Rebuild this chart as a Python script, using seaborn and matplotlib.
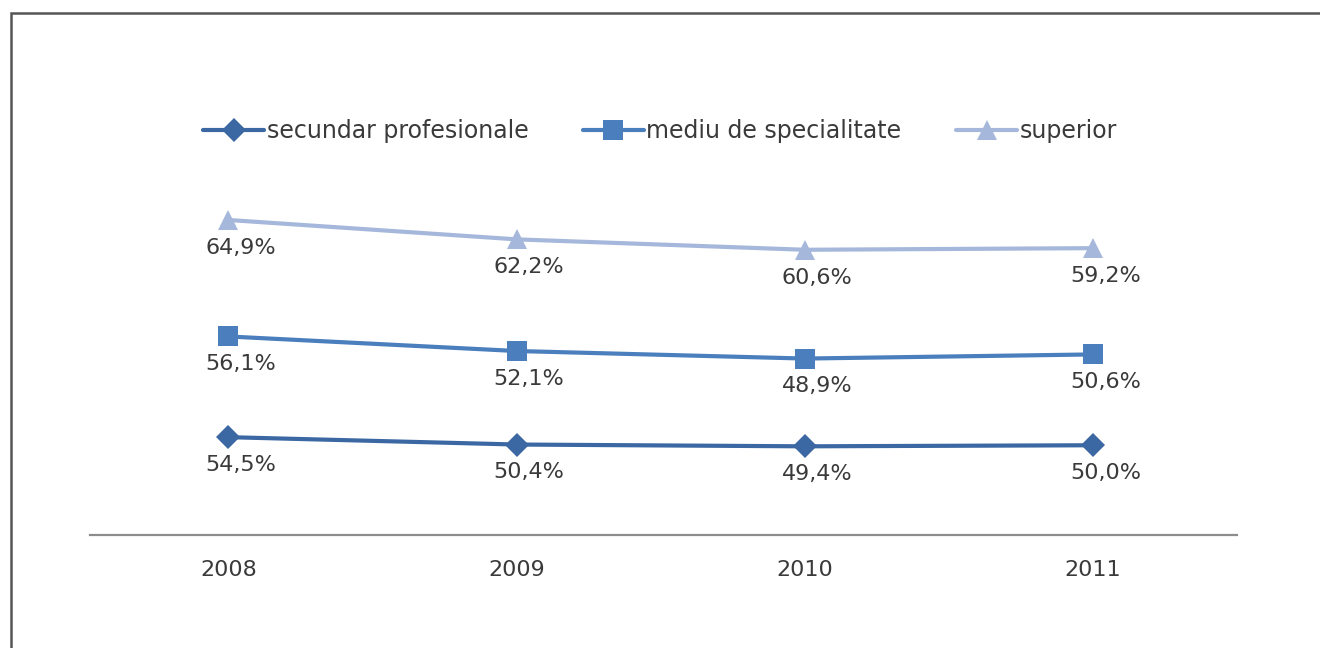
import numpy as np
import pandas as pd
import matplotlib
matplotlib.use("Agg")
import matplotlib.pyplot as plt
from matplotlib.patches import Rectangle
import seaborn as sns

# data (stacked line chart, labels show own values)
years = ["2008", "2009", "2010", "2011"]
series_names = ["secundar profesionale", "mediu de specialitate", "superior"]
secundar = [54.5, 50.4, 49.4, 50.0]
mediu = [56.1, 52.1, 48.9, 50.6]
superior = [64.9, 62.2, 60.6, 59.2]

colors = ["#3b67a3", "#4a7ebd", "#a5b8db"]
markers = ["D", "s", "^"]
msizes = [12, 14, 14]

sns.set_theme(style="white")
plt.rcParams["font.family"] = ["DejaVu Sans"]

values = [secundar, mediu, superior]
stacked = np.cumsum(np.array(values), axis=0)

rows = []
for name, vals, tops in zip(series_names, values, stacked):
    for i, (v, t) in enumerate(zip(vals, tops)):
        rows.append({"series": name, "pos": i, "value": v, "height": t})
df = pd.DataFrame(rows)

W, H = 1320, 648
fig = plt.figure(figsize=(W / 100, H / 100), dpi=100)
ax = fig.add_axes([90 / W, (H - 535) / H, 1147 / W, 359 / H])

for name, c, m, ms in zip(series_names, colors, markers, msizes):
    sub = df[df["series"] == name]
    sns.lineplot(data=sub, x="pos", y="height", ax=ax, color=c, lw=3,
                 marker=m, markersize=ms, markeredgewidth=0, label=name)
    for _, r in sub.iterrows():
        ax.annotate(f"{r['value']:.1f}%".replace(".", ","), (r["pos"], r["height"]),
                    xytext=(9, -20), textcoords="offset points",
                    ha="center", va="center", fontsize=16, color="#3a3a3a")

ax.set_xlim(-0.48, 3.5)
ax.set_ylim(0, 200)
ax.set_xticks(range(len(years)))
ax.set_xticklabels(years, fontsize=16, color="#3a3a3a")
ax.set_yticks([])
ax.set_xlabel("")
ax.set_ylabel("")
ax.tick_params(axis="x", length=0, pad=18)
for s in ["top", "right", "left"]:
    ax.spines[s].set_visible(False)
ax.spines["bottom"].set_color("#8c8c8c")
ax.spines["bottom"].set_linewidth(1.6)

handles, labels = ax.get_legend_handles_labels()
ax.get_legend().remove()
fig.legend(handles, labels, loc="center", bbox_to_anchor=(0.5, (H - 131) / H),
           ncol=3, frameon=False, fontsize=17, handlelength=2.6,
           handletextpad=0.1, columnspacing=2.3, labelcolor="#3a3a3a",
           markerscale=1.0)

fig.add_artist(Rectangle((11 / W, -0.1), 1.2, 1 - 13 / H + 0.1,
                         transform=fig.transFigure, fill=False,
                         edgecolor="#555555", lw=1.8))

fig.savefig("out.png", dpi=100)
